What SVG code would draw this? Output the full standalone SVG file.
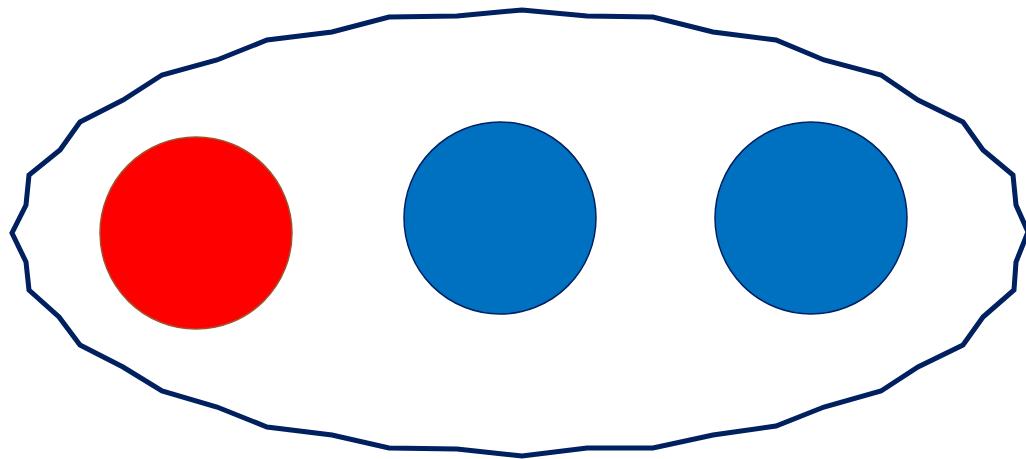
<svg xmlns="http://www.w3.org/2000/svg" width="1026" height="459" viewBox="0 0 1026 459">
<style>
.outline{fill:none;stroke:#002060;stroke-width:5;stroke-linejoin:miter}
.blue{fill:#0070C0;stroke:#002060;stroke-width:1.5}
.red{fill:#FF0000;stroke:#A0522D;stroke-width:1.5}
</style>
<rect width="1026" height="459" fill="#ffffff"/>
<g id="boundary">
<polygon class="outline" points="389,17 457,16 522,10 587,16 653,17 713,32 776,40 824,60 881,75 918,100 963,122 983,150 1013,175 1016,205 1028,232 1016,262 1014,290 983,317 963,345 918,367 881,391 824,407 776,426 713,435 653,448 587,448 522,456 457,449 389,448 332,435 267,427 217,407 162,391 123,367 80,345 59,317 29,290 26,262 12,233 26,205 29,175 60,150 80,122 123,100 162,75 217,60 267,40 332,32"/>
</g>
<g id="node-red"><circle class="red" cx="196" cy="233" r="96"/></g>
<g id="node-blue-1"><circle class="blue" cx="500" cy="218" r="96"/></g>
<g id="node-blue-2"><circle class="blue" cx="811" cy="218" r="96"/></g>
<g id="connectors"></g>
</svg>
